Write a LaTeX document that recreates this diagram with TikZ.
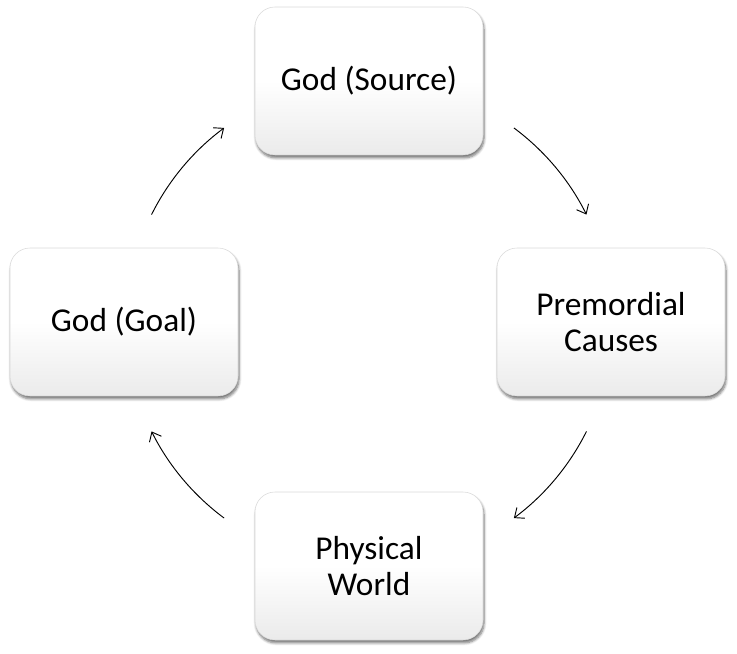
\documentclass[tikz,border=0pt]{standalone}
\usepackage{fontspec}
\setmainfont{Carlito}
\usetikzlibrary{arrows.meta,calc,shadows.blur}

\begin{document}
\begin{tikzpicture}[
  x=0.75pt, y=0.75pt,
  box/.style={draw=gray!30, rounded corners=15pt, align=center,
    font=\fontsize{25}{27}\selectfont,
    minimum width=171pt, minimum height=111pt,
    top color=white, bottom color=gray!16, middle color=white,
    blur shadow={shadow blur steps=6, shadow xshift=0.8pt,
      shadow yshift=-2.2pt, shadow opacity=55}},
  cyc/.style={-{Straight Barb[length=6pt,width=10pt]}, line width=0.7pt},
  >=Stealth]
  \useasboundingbox (0,0) rectangle (737,653);
  % the four stages
  \node[box] (gsrc) at (369,572) {God (Source)};
  \node[box] (pcause) at (611,331) {Premordial\\Causes};
  \node[box] (pworld) at (369,87) {Physical\\World};
  \node[box] (ggoal) at (124,331) {God (Goal)};
  % arcs of the cycle
  \coordinate (c) at (369,330);
  \foreach \n/\a in {1/153.5,2/53.4,3/-26.5,4/-126.6} {
    \coordinate (a\n) at ($(c)+(\a:243)$);
  }
  \draw[cyc] (a1) arc[start angle=153.5, end angle=126.6, radius=243];
  \draw[cyc] (a2) arc[start angle=53.4, end angle=26.5, radius=243];
  \draw[cyc] (a3) arc[start angle=-26.5, end angle=-53.4, radius=243];
  \draw[cyc] (a4) arc[start angle=-126.6, end angle=-153.5, radius=243];
\end{tikzpicture}
\end{document}
